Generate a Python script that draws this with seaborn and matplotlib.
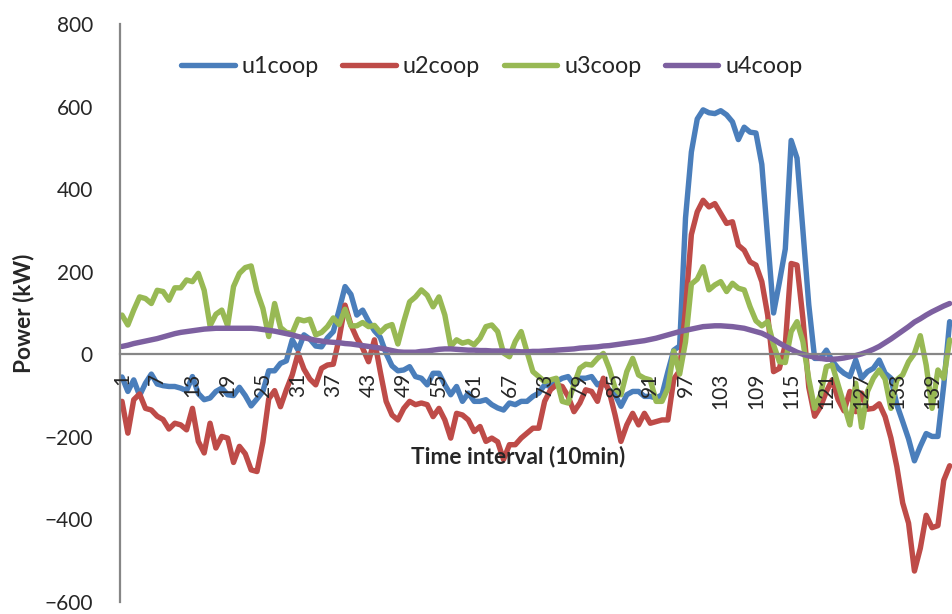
import numpy as np
import pandas as pd
import matplotlib
matplotlib.use("Agg")
import matplotlib.pyplot as plt
from matplotlib.ticker import MultipleLocator, FixedLocator
import seaborn as sns

# Datos (kW por intervalo de 10 min)
u1coop = [-55, -90, -62, -100, -70, -48, -72, -76, -78, -78,
          -82, -88, -54, -95, -110, -106, -90, -82, -98, -100,
          -80, -100, -125, -108, -90, -40, -40, -22, -16, 35,
          10, 47, 37, 20, 18, 40, 55, 108, 164, 145,
          95, 107, 80, 57, 41, 2, -28, -40, -38, -30,
          -54, -58, -74, -46, -46, -74, -98, -78, -114, -94,
          -114, -114, -110, -122, -130, -135, -118, -122, -114, -114,
          -102, -94, -74, -78, -66, -58, -54, -74, -58, -58,
          -54, -74, -66, -86, -98, -126, -98, -90, -90, -102,
          -102, -106, -98, -42, 10, 20, 330, 490, 570, 592,
          585, 583, 590, 580, 563, 520, 550, 538, 536, 460,
          280, 100, 175, 255, 518, 475, 300, 120, -10, -10,
          10, -16, -34, -46, -54, -14, -58, -42, -34, -14,
          -46, -58, -122, -163, -205, -258, -223, -192, -199, -199,
          -74, 79]

u2coop = [-114, -191, -110, -96, -131, -135, -150, -158, -181, -167,
          -171, -183, -131, -211, -239, -167, -227, -199, -203, -262,
          -223, -241, -280, -284, -213, -108, -88, -127, -86, -50,
          2, -36, -60, -74, -34, -26, -24, 39, 119, 71,
          39, 15, -18, 35, -42, -114, -147, -159, -131, -114,
          -122, -118, -122, -151, -131, -159, -203, -143, -147, -159,
          -187, -175, -211, -203, -212, -255, -219, -219, -203, -191,
          -179, -179, -114, -86, -74, -78, -102, -139, -118, -86,
          -90, -114, -58, -90, -147, -211, -171, -143, -171, -143,
          -167, -163, -159, -159, -60, -40, 110, 290, 345, 373,
          357, 365, 341, 317, 321, 264, 252, 224, 216, 176,
          95, -42, -34, 23, 220, 216, 87, -80, -150, -127,
          -90, -62, -110, -137, -90, -139, -94, -133, -131, -120,
          -151, -203, -272, -360, -409, -525, -470, -390, -420, -415,
          -305, -270]

u3coop = [95, 71, 107, 139, 135, 123, 155, 152, 131, 161,
          161, 180, 176, 196, 155, 69, 97, 107, 69, 164,
          196, 210, 214, 152, 111, 43, 123, 65, 53, 51,
          85, 81, 85, 47, 53, 67, 88, 72, 109, 69,
          69, 77, 67, 70, 53, 67, 72, 25, 79, 127,
          139, 156, 143, 115, 139, 95, 19, 35, 27, 31,
          23, 39, 67, 71, 55, 3, -6, 31, 55, 6,
          -42, -54, -66, -62, -58, -114, -118, -74, -34, -24,
          -26, -10, 2, -34, -82, -98, -42, -10, -50, -58,
          -62, -114, -114, -82, 8, -48, 30, 170, 182, 212,
          156, 168, 176, 152, 172, 160, 156, 115, 81, 69,
          79, 23, -18, -20, 55, 79, 31, -60, -131, -98,
          -30, -26, -74, -122, -171, -70, -177, -90, -58, -38,
          -60, -131, -62, -50, -18, 2, 45, -26, -131, -38,
          -58, 35]

u4coop = [19, 22, 26, 29, 32, 35, 38, 42, 46, 50,
          53, 55, 57, 59, 61, 62, 63, 63, 63, 63,
          63, 63, 63, 62, 60, 58, 56, 53, 50, 47,
          43, 40, 37, 34, 32, 30, 29, 28, 26, 25,
          23, 21, 19, 17, 15, 12, 9, 6, 5, 5,
          5, 7, 8, 10, 12, 13, 13, 12, 11, 10,
          10, 9, 9, 8, 8, 8, 7, 7, 6, 6,
          7, 7, 8, 9, 10, 11, 12, 13, 15, 16,
          17, 18, 20, 21, 23, 25, 27, 29, 31, 33,
          36, 39, 43, 47, 51, 55, 58, 61, 64, 67,
          68, 69, 69, 68, 67, 65, 63, 59, 55, 51,
          44, 36, 27, 19, 12, 5, 0, -4, -7, -10,
          -12, -12, -11, -9, -6, -3, 1, 6, 12, 19,
          28, 37, 47, 57, 67, 78, 86, 95, 103, 110,
          117, 123]

series = ["u1coop", "u2coop", "u3coop", "u4coop"]
colores = ["#4A7EBB", "#BE4B48", "#98B954", "#7D60A0"]

intervalos = np.arange(1, len(u1coop) + 1)
etiquetas_x = list(range(1, 143, 6))

# Armo el DataFrame en formato largo para seaborn
df = pd.concat([
    pd.DataFrame({"intervalo": intervalos, "potencia": valores, "serie": nombre})
    for nombre, valores in zip(series, [u1coop, u2coop, u3coop, u4coop])
])

sns.set_style("white")
plt.rcParams["font.family"] = ["Lato", "DejaVu Sans"]

fig = plt.figure(figsize=(9.52, 6.14), dpi=100)
ax = fig.add_axes([120 / 952, 12 / 614, 832 / 952, 578 / 614])

sns.lineplot(data=df, x="intervalo", y="potencia", hue="serie",
             palette=colores, linewidth=3.9, ax=ax, legend=True)

ax.set_xlim(0.66, 142.4)
ax.set_ylim(-600, 800)
ax.set_axisbelow(False)  # las etiquetas del eje quedan sobre las líneas

# Ejes estilo Excel: el eje x cruza en cero
gris = "#868686"
ax.spines["bottom"].set_position(("data", 0))
ax.spines["top"].set_visible(False)
ax.spines["right"].set_visible(False)
for lado in ["bottom", "left"]:
    ax.spines[lado].set_color(gris)
    ax.spines[lado].set_linewidth(1.6)

ax.yaxis.set_major_locator(MultipleLocator(200))
ax.yaxis.set_minor_locator(MultipleLocator(40))
ax.xaxis.set_major_locator(FixedLocator(etiquetas_x))
ax.xaxis.set_minor_locator(MultipleLocator(1))
ax.set_xticklabels([str(e) for e in etiquetas_x])

ax.tick_params(axis="y", which="major", direction="inout", length=11, width=1.6,
               color=gris, labelsize=15, pad=14)
ax.tick_params(axis="y", which="minor", direction="in", length=4, width=1.4, color=gris)
ax.tick_params(axis="x", which="both", direction="out", length=5.5, width=1.4,
               color=gris, labelsize=15, pad=8, labelrotation=90)

ax.set_xlabel("Time interval (10min)", fontsize=16.3, fontweight="bold", va="center")
ax.xaxis.set_label_coords(0.478, 0.252)
ax.set_ylabel("Power (kW)", fontsize=16.3, fontweight="bold", labelpad=7)

leg = ax.legend(loc="center", bbox_to_anchor=(0.447, 0.926), ncol=4, frameon=False,
                fontsize=16.8, handlelength=2.3, handletextpad=0.3, columnspacing=1.0)
for linea in leg.get_lines():
    linea.set_linewidth(3.9)

fig.savefig("out.png", dpi=100)
